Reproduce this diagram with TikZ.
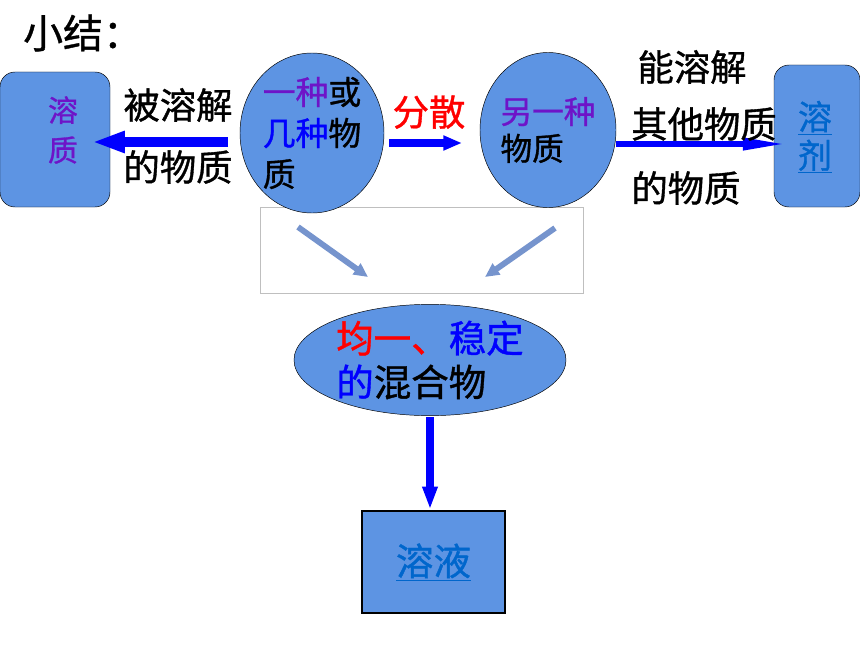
\documentclass[tikz,border=0pt]{standalone}
\usepackage{fontspec}
\usepackage{xcolor}
\setmainfont{Noto Sans CJK SC}[FakeBold=1]
\usetikzlibrary{positioning, arrows.meta, shapes.geometric}

\definecolor{fillblue}{RGB}{93,148,227}
\definecolor{arrowblue}{RGB}{0,0,255}
\definecolor{tpurple}{RGB}{110,20,200}
\definecolor{tlink}{RGB}{0,102,204}
\definecolor{diagblue}{RGB}{118,148,205}

\begin{document}
\begin{tikzpicture}[
    x=0.03cm, y=-0.03cm,
    roundbox/.style={rectangle, rounded corners=0.45cm, draw=black, fill=fillblue, inner sep=0pt},
    bubble/.style={ellipse, draw=black, fill=fillblue, inner sep=0pt, align=left},
    bigtext/.style={font=\fontsize{31pt}{37pt}\selectfont, inner sep=0pt, align=left},
    flow/.style={draw=arrowblue, line width=8.5pt, -{Triangle[width=17pt, length=28pt]}}
]
\useasboundingbox (0,0) rectangle (860,645);

% picture frame with the two slanted arrows
\node[draw=black!25, line width=0.6pt, minimum width=9.69cm, minimum height=2.58cm, inner sep=0pt](frame) at (421.5,250){};
\coordinate (d1s) at (298,227);
\coordinate (d1e) at (368,277);
\coordinate (d2s) at (555,228);
\coordinate (d2e) at (485,277);
\draw[draw=diagblue, line width=5pt, -{Triangle[width=11pt, length=12pt]}] (d1s) -- (d1e);
\draw[draw=diagblue, line width=5pt, -{Triangle[width=11pt, length=12pt]}] (d2s) -- (d2e);

% boxes and bubbles
\node[roundbox, minimum width=3.3cm, minimum height=4.05cm](solute) at (55,139.5){};
\node[font=\fontsize{25.5pt}{34pt}\selectfont, text=tpurple, align=center, inner sep=0pt](solutetxt) at (63,130){溶\\质};

\node[roundbox, minimum width=2.58cm, minimum height=4.26cm](solvent) at (817,136){};
\node[font=\fontsize{29pt}{33pt}\selectfont, text=tlink, align=center, inner sep=0pt](solventtxt) at (815,137){\underline{溶}\\\underline{剂}};

\node[bubble, minimum width=4.32cm, minimum height=4.8cm, font=\fontsize{28pt}{35pt}\selectfont](one) at (312,133)
    {{\color{tpurple}一种}或\\{\color{arrowblue}几种}物\\质};
\node[bubble, minimum width=4.08cm, minimum height=4.65cm, font=\fontsize{27pt}{31.5pt}\selectfont](other) at (548,130)
    {{\color{tpurple}另一种}\\物质};
\node[bubble, minimum width=8.16cm, minimum height=3.12cm, font=\fontsize{32pt}{37.4pt}\selectfont](mix) at (430,360)
    {{\color{red}均一、}{\color{arrowblue}稳定}\\{\color{arrowblue}的}混合物};

\node[draw=black, line width=2.5pt, fill=fillblue, minimum width=4.29cm, minimum height=3.06cm, inner sep=0pt,
      font=\fontsize{32pt}{37pt}\selectfont, text=tlink](solution) at (433.5,562){\underline{溶液}};

% arrows
\coordinate (la-s) at (228,142);
\coordinate (la-e) at (92,142);
\draw[flow] (la-s) -- (la-e);

\coordinate (ma-s) at (389,143);
\coordinate (ma-e) at (462,143);
\draw[flow, line width=7pt, -{Triangle[width=12pt, length=16pt]}] (ma-s) -- (ma-e);

\coordinate (ra-s) at (other.east |- 0,144);
\coordinate (ra-e) at (785,144);
\draw[flow, line width=4.3pt, -{Triangle[width=10pt, length=36pt]}] (ra-s) -- (ra-e);

\coordinate (da-s) at (430,417);
\draw[flow, line width=6pt, -{Triangle[width=12pt, length=19.5pt]}] (da-s) -- (solution.north -| da-s);

% texts
\node[bigtext, font=\fontsize{34pt}{40pt}\selectfont](title) at (83,33){小结：};
\node[bigtext](bei) at (178,105){被溶解};
\node[bigtext](de1) at (178,167){的物质};
\node[bigtext, text=red](fensan) at (429,112){分散};
\node[bigtext](neng) at (692,67){能溶解};
\node[bigtext](qita) at (704,124){其他物质};
\node[bigtext](de2) at (686,188){的物质};
\end{tikzpicture}
\end{document}
